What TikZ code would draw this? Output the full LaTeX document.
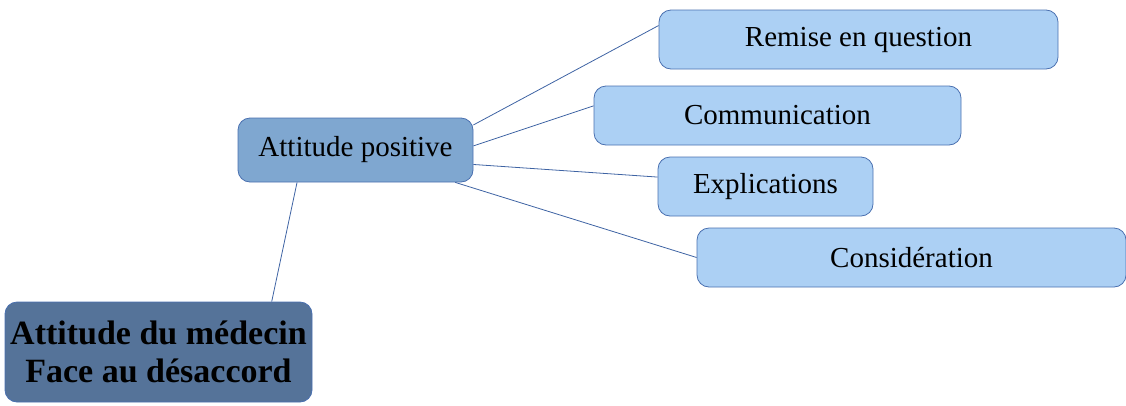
\documentclass[tikz,border=0pt]{standalone}
\usepackage{fontspec}
\setmainfont{Liberation Serif}
\usetikzlibrary{
    positioning,
}
\definecolor{rootfill}{HTML}{557399}
\definecolor{midfill}{HTML}{7FA7D0}
\definecolor{leaffill}{HTML}{ACD0F4}
\definecolor{boxline}{HTML}{4A70B0}
\definecolor{linkcol}{HTML}{3E63A3}
\tikzstyle{box}=[draw=boxline,rectangle,line width=0.8pt,rounded corners=12pt,inner sep=0pt,font=\fontsize{29}{34}\selectfont]
\tikzstyle{leaf}=[box,fill=leaffill,minimum height=59pt]
\tikzstyle{link}=[draw=linkcol,line width=0.8pt]

\begin{document}
\begin{tikzpicture}[x=1pt,y=1pt]
    \useasboundingbox (0,0) rectangle (1126,-405);
    \node[box,fill=rootfill,minimum width=307pt,minimum height=100pt,align=center,
          font=\fontsize{34}{38}\selectfont\bfseries] (root) at (158.5,-352) {Attitude du médecin\\Face au désaccord};
    \node[box,fill=midfill,minimum width=235pt,minimum height=64pt] (pos) at (355.5,-150) {Attitude positive};
    \begin{scope}
        \node[leaf,minimum width=399pt] (remise) at (858.5,-39.5) {Remise en question};
        \node[leaf,minimum width=367pt] (comm) at (777.5,-115.5) {Communication};
        \node[leaf,minimum width=215pt] (expl) at (765.5,-186.5) {Explications};
        \node[leaf,minimum width=429pt] (consid) at (911.5,-257.5) {Considération};
    \end{scope}
    \draw[link] (root.24) -- (pos.209);
    \draw[link] (pos.12) -- (remise.176);
    \draw[link] (pos.2) -- (comm.177);
    \draw[link] (pos.-7) -- (expl.175);
    \draw[link] (pos.-18) -- (consid.180);
\end{tikzpicture}
\end{document}
